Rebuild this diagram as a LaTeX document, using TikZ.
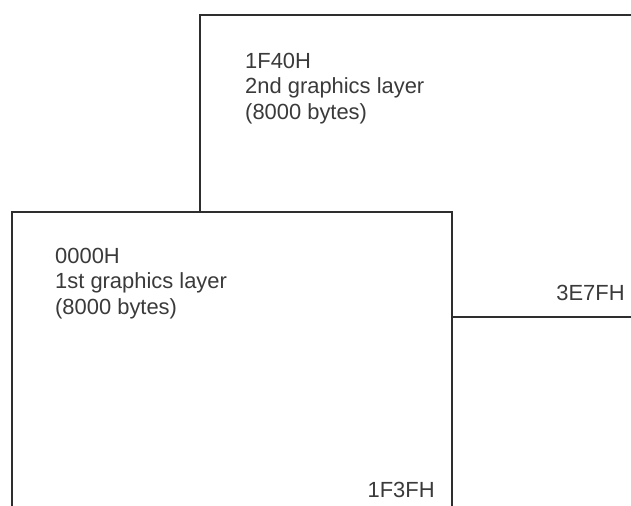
\documentclass[tikz,border=0pt]{standalone}
\usepackage{fontspec}
\setmainfont{Liberation Sans}
\usetikzlibrary{positioning}
\definecolor{clrline}{HTML}{2E2E2E}
\definecolor{clrtext}{HTML}{3A3A3A}

\begin{document}
\begin{tikzpicture}[
    x=1bp, y=-1bp,
    every node/.style={font=\fontsize{22}{25.5}\selectfont, text=clrtext},
    layerbox/.style={draw=clrline, line width=1.8bp, fill=white, inner sep=0, anchor=north west},
    note/.style={align=left, inner sep=0, anchor=north west},
    addr/.style={inner sep=0, anchor=north east},
]
\useasboundingbox (0,0) rectangle (631,506);
\clip (0,0) rectangle (631,506);
\node[layerbox, minimum width=480bp, minimum height=302bp] (layer_2) at (199,14) {};
\node[layerbox, minimum width=440bp, minimum height=340bp] (layer_1) at (11,211) {};
\node[note] (txt_2) at ([shift={(46,39)}]layer_2.north west) {1F40H\\2nd graphics layer\\(8000 bytes)};
\node[note] (txt_1) at ([shift={(44,37)}]layer_1.north west) {0000H\\1st graphics layer\\(8000 bytes)};
\node[addr] (end_2) at ([shift={(172,74)}]layer_1.north east) {3E7FH};
\node[addr] (end_1) at ([shift={(-18,271)}]layer_1.north east) {1F3FH};
\end{tikzpicture}
\end{document}
